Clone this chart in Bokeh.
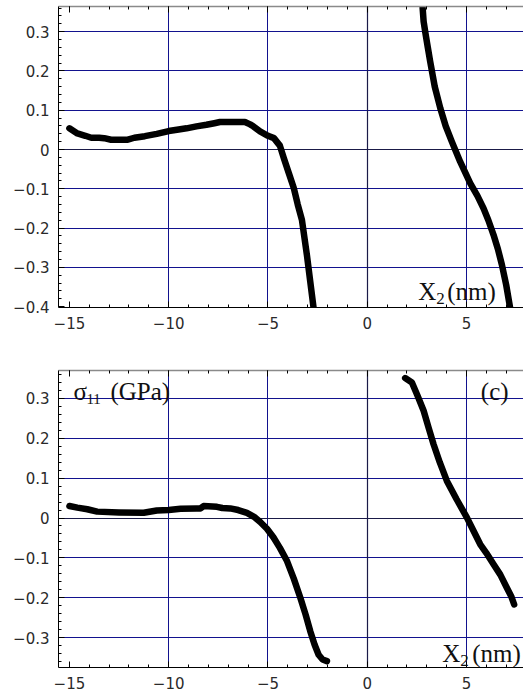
from bokeh.plotting import figure
from bokeh.layouts import column
from bokeh.models import (FixedTicker, LinearAxis, Label, Range1d, Grid,
                          CustomJSTickFormatter)
from bokeh.embed import file_html
from bokeh.resources import INLINE

# ---------------- data ----------------
# upper panel
top_left_x = [-15.0, -14.6, -14.2, -13.9, -13.5, -13.25, -12.9, -12.5, -12.06, -11.73,
              -11.2, -10.6, -10.0, -9.5, -9.1, -8.6, -8.1, -7.7, -7.42, -7.0, -6.6,
              -6.16, -5.9, -5.74, -5.4, -5.0, -4.7, -4.4, -4.2, -3.95, -3.7, -3.5,
              -3.29, -3.04, -2.87, -2.7]
top_left_y = [0.054, 0.041, 0.035, 0.030, 0.030, 0.029, 0.025, 0.025, 0.025, 0.030,
              0.034, 0.040, 0.047, 0.051, 0.054, 0.059, 0.063, 0.067, 0.070, 0.070, 0.070,
              0.070, 0.064, 0.059, 0.046, 0.035, 0.029, 0.010, -0.022, -0.060, -0.098, -0.140,
              -0.179, -0.268, -0.336, -0.404]
top_right_x = [2.79, 2.84, 2.95, 3.05, 3.17, 3.40, 3.68, 3.95, 4.26, 4.68, 5.19, 5.55,
               5.86, 6.10, 6.36, 6.58, 6.78, 7.00, 7.20]
top_right_y = [0.360, 0.326, 0.290, 0.260, 0.224, 0.160, 0.105, 0.060, 0.020, -0.031,
               -0.086, -0.118, -0.150, -0.180, -0.217, -0.253, -0.293, -0.345, -0.404]

# lower panel
bot_left_x = [-15.0, -14.6, -14.1, -13.6, -12.5, -11.26, -10.6, -10.0, -9.4, -8.6, -8.4,
              -8.24, -7.57, -7.3, -6.9, -6.5, -6.06, -5.7, -5.39, -5.05, -4.72, -4.4,
              -4.04, -3.7, -3.37, -3.1, -2.87, -2.65, -2.45, -2.25, -2.03]
bot_left_y = [0.030, 0.026, 0.022, 0.016, 0.014, 0.013, 0.019, 0.020, 0.023, 0.024, 0.024,
              0.030, 0.028, 0.025, 0.024, 0.020, 0.013, 0.003, -0.010, -0.027, -0.049, -0.075,
              -0.108, -0.152, -0.200, -0.243, -0.284, -0.318, -0.343, -0.355, -0.359]
bot_right_x = [1.91, 2.25, 2.55, 2.84, 3.10, 3.34, 3.65, 4.01, 4.50, 5.02, 5.35, 5.69,
               6.00, 6.36, 6.70, 7.03, 7.25, 7.40]
bot_right_y = [0.351, 0.340, 0.305, 0.269, 0.225, 0.185, 0.140, 0.093, 0.047, 0.001,
               -0.032, -0.066, -0.088, -0.116, -0.142, -0.175, -0.196, -0.217]

x_ticks = [-15, -10, -5, 0, 5]
x_tick_labels = ["\u221215", "\u221210", "\u22125", "0", "5"]
top_y_ticks = [0.3, 0.2, 0.1, 0.0, -0.1, -0.2, -0.3, -0.4]
top_y_tick_labels = ["0.3", "0.2", "0.1", "0", "\u22120.1", "\u22120.2", "\u22120.3", "\u22120.4"]
bot_y_ticks = [0.3, 0.2, 0.1, 0.0, -0.1, -0.2, -0.3]
bot_y_tick_labels = ["0.3", "0.2", "0.1", "0", "\u22120.1", "\u22120.2", "\u22120.3"]

x_grid = [-10, -5, 5]
y_grid = [0.3, 0.2, 0.1, -0.1, -0.2, -0.3]
x_minor = [float(i) for i in range(-16, 9)]
y_minor = [round(-0.44 + 0.02 * i, 2) for i in range(0, 42)]

GRID_COLOR = "#12128e"
ZERO_COLOR = "#1a1a48"
LABEL_FONT = "DejaVu Sans"
SERIF = "Liberation Serif"
TXT = "#111111"


def fmt(ticks, labels):
    return CustomJSTickFormatter(args=dict(t=ticks, l=labels), code="""
        for (let i = 0; i < t.length; i++) {
            if (Math.abs(t[i] - tick) < 1e-9) return l[i];
        }
        return "";
    """)


def panel(height, top_b, bot_b, y0, y1, yt, ytl, xstand):
    p = figure(width=523, height=height, x_range=Range1d(-15.55, 7.87),
               y_range=Range1d(y0, y1), output_backend="svg", toolbar_location=None,
               x_axis_type=None, y_axis_type=None,
               min_border_left=58, min_border_right=0,
               min_border_top=top_b, min_border_bottom=bot_b)
    p.outline_line_color = None
    p.background_fill_color = "white"
    p.border_fill_color = "white"

    # grids
    p.add_layout(Grid(dimension=0, ticker=FixedTicker(ticks=x_grid),
                      grid_line_color=GRID_COLOR, grid_line_width=1))
    p.add_layout(Grid(dimension=1, ticker=FixedTicker(ticks=y_grid),
                      grid_line_color=GRID_COLOR, grid_line_width=1))
    p.add_layout(Grid(dimension=0, ticker=FixedTicker(ticks=[0]),
                      grid_line_color=ZERO_COLOR, grid_line_width=1.2))
    p.add_layout(Grid(dimension=1, ticker=FixedTicker(ticks=[0]),
                      grid_line_color=ZERO_COLOR, grid_line_width=1.2))

    common = dict(major_tick_in=6, major_tick_out=0, minor_tick_in=3, minor_tick_out=0,
                  major_tick_line_color="black", minor_tick_line_color="black",
                  major_label_text_font=LABEL_FONT, major_label_text_font_size="15px",
                  major_label_text_color="#2a2a2a")

    xa = LinearAxis(ticker=FixedTicker(ticks=x_ticks, minor_ticks=x_minor),
                    formatter=fmt(x_ticks, x_tick_labels),
                    major_label_standoff=xstand, axis_line_color="black", **common)
    p.add_layout(xa, "below")

    ya = LinearAxis(ticker=FixedTicker(ticks=yt, minor_ticks=y_minor),
                    formatter=fmt(yt, ytl),
                    major_label_standoff=9, axis_line_color="black", **common)
    p.add_layout(ya, "left")

    ta = LinearAxis(ticker=FixedTicker(ticks=x_ticks, minor_ticks=x_minor),
                    formatter=fmt([], []), major_label_standoff=0,
                    axis_line_color="#8a8a8a", axis_line_width=1.5,
                    major_tick_in=6, major_tick_out=0, minor_tick_in=3, minor_tick_out=0,
                    major_label_text_font_size="0px")
    p.add_layout(ta, "above")
    return p


def text(p, x, y, s, size, dx=0, dy=0, align="left"):
    p.add_layout(Label(x=x, y=y, x_offset=dx, y_offset=dy, text=s, text_font=SERIF,
                       text_font_size=size, text_color=TXT, text_align=align,
                       text_baseline="alphabetic"))


def x2_label(p, x, y, sub_dx, paren_dx):
    text(p, x, y, "X", "25px")
    text(p, x, y, "2", "17px", dx=sub_dx, dy=-7)
    text(p, x, y, "(nm)", "25px", dx=paren_dx)


# upper panel
p1 = panel(340, 6, 33, -0.402, 0.364, top_y_ticks, top_y_tick_labels, 9)
for xs, ys in ((top_left_x, top_left_y), (top_right_x, top_right_y)):
    p1.line(xs, ys, line_color="black", line_width=6.5, line_cap="round", line_join="round")
x2_label(p1, 2.57, -0.362, 18, 29)

# lower panel
p2 = panel(353, 30, 26, -0.375, 0.37, bot_y_ticks, bot_y_tick_labels, 9)
for xs, ys in ((bot_left_x, bot_left_y), (bot_right_x, bot_right_y)):
    p2.line(xs, ys, line_color="black", line_width=6.5, line_cap="round", line_join="round")
text(p2, -14.8, 0.317, "\u03c3", "25px")
text(p2, -14.8, 0.317, "11", "15px", dx=13, dy=-7)
text(p2, -14.8, 0.317, "(GPa)", "25px", dx=37)
text(p2, 7.12, 0.317, "(c)", "25px", align="right")
x2_label(p2, 3.78, -0.34, 18, 30)

layout = column(p1, p2, spacing=0)
open("out.html", "w").write(file_html(layout, INLINE))
